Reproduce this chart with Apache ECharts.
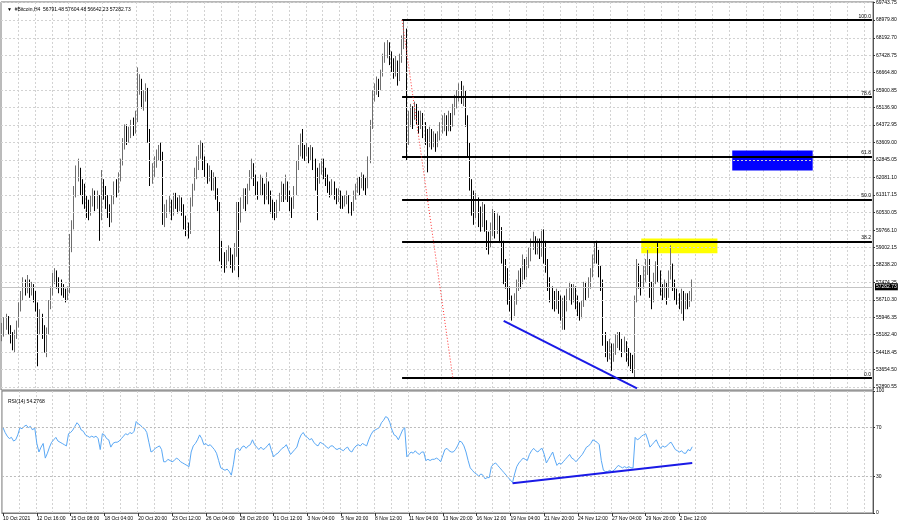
<!DOCTYPE html>
<html><head><meta charset="utf-8">
<script src="https://cdn.jsdelivr.net/npm/echarts@6/dist/echarts.min.js"></script>
<style>html,body{margin:0;padding:0;background:#fff}#c{width:900px;height:523px}</style>
</head><body><div id="c"></div>
<script>
const firstOpen = 55000;
const closes = [55300,55600,55900,55400,55100,54900,55200,55600,56300,56800,
57400,57200,57500,57100,57300,57000,56500,55500,55900,55400,
54700,55300,56500,57100,57600,57900,57500,57400,57200,57000,
56900,57100,59200,59900,61400,62300,62400,61700,61600,61000,
60800,60600,61000,61300,60900,61200,60300,61700,61500,61100,
60600,60300,61000,61700,61500,62000,62700,63500,64100,63900,
64000,64300,64200,64600,66100,66200,65400,65600,65900,64000,
62000,62300,62700,63000,63300,63100,60300,60500,60800,60900,
60500,61200,61000,60800,61000,60800,60200,59900,59700,60900,
61600,62200,62600,63100,63500,62800,62500,62100,62300,61800,
62000,61400,60900,59000,58500,58300,58600,58900,58400,58200,
58800,60700,60300,60800,61300,61000,61600,62200,62500,62000,
61700,61500,61900,61600,61200,61800,61300,60900,60700,60500,
60800,61200,61600,61400,61800,61300,61000,60800,61400,62500,
63300,63500,63200,63100,63300,63000,63200,62800,62300,62000,
62400,62700,62300,62000,61700,61500,61800,61400,61200,61300,
61000,60900,61100,61200,60800,60700,61300,61600,61900,61700,
62000,61800,61700,62800,64300,65600,65900,66100,66000,66600,
67300,67700,67800,67400,67100,66800,66900,66500,67300,67900,
68400,63800,64600,65000,64700,65100,64800,64400,64700,64300,
63900,63700,64000,63600,63800,63500,63900,64200,64400,64600,
64300,64700,64500,65000,65400,65600,65900,65600,65800,64700,
63400,61800,61200,60800,61000,60500,60200,60700,60000,59400,
59200,59800,60300,59900,60200,59600,59100,58300,57800,57000,
56600,56200,56700,57300,57700,57500,58300,57900,58400,58600,
59100,59300,59000,59200,58800,59400,59100,58300,57500,57000,
56700,56600,56900,56500,56200,56600,56400,56900,57200,56800,
57100,56700,56400,56100,56500,57200,57000,57400,57800,58500,
58900,58600,58000,57500,55000,54600,54300,54700,54200,54500,
54900,55100,54800,54600,54800,54400,54200,54000,53900,56700,
58200,57600,57300,57800,58000,58400,57400,56800,57600,58100,
57900,57200,57000,57300,56900,57700,58200,57500,57000,56800,
56600,57000,56500,56800,56600,56790,57283];
const highs = [55700,55950,56100,56000,55600,55300,55400,55800,56600,57100,
57700,57600,57800,57600,57500,57400,57100,56600,56300,56100,
55600,55500,56700,57300,57900,58100,58000,57700,57600,57400,
57200,57300,59600,60200,61700,62600,62900,62500,62000,61800,
61300,61100,61300,61600,61500,61500,61300,62400,62000,61700,
61300,60900,61300,61900,62000,62300,62900,63800,64400,64400,
64300,64600,64700,65000,66900,66600,66400,65900,66200,66000,
64200,62700,63000,63300,63500,63600,63200,60900,61100,61300,
61100,61400,61400,61200,61300,61200,60900,60400,60100,61200,
61800,62500,63000,63500,63700,63600,63000,62700,62600,62400,
62300,62100,61600,61000,59300,58800,58900,59100,59000,58700,
59200,61000,61000,61200,61600,61600,61800,62400,62900,62700,
62200,61900,62200,62100,61800,62300,61900,61500,61100,61000,
61100,61400,61900,61800,62200,61900,61500,61200,61700,62800,
63500,64000,64200,63500,63600,63400,63500,63400,62900,62500,
62700,62900,62900,62500,62200,61900,62000,61900,61600,61600,
61500,61300,61300,61500,61300,61000,61500,61800,62100,62100,
62300,62200,62100,63000,64600,65900,66200,66500,66400,66800,
67500,68000,68100,68000,67600,67300,67400,67200,67500,68300,
69000,68600,65000,65300,65200,65400,65300,65000,65000,64900,
64500,64200,64300,64200,64100,64000,64100,64500,64800,64900,
64800,65000,64900,65300,65700,65900,66200,66300,66100,65900,
64800,63600,62000,61500,61400,61200,60800,61000,60900,60200,
59700,60100,60700,60600,60500,60400,59900,59300,58500,58100,
57300,56900,57000,57600,58000,58100,58700,58500,58600,59000,
59400,59700,59500,59400,59400,59800,59800,59300,58500,57700,
57300,57100,57200,57100,56900,56800,56900,57200,57500,57400,
57400,57300,56900,56600,56700,57500,57500,57700,58100,58700,
59200,59300,58900,58200,57600,55300,54900,55000,54800,54800,
55200,55300,55300,55000,55100,54900,54600,54400,54300,56900,
58500,58300,57800,58200,58500,58900,58500,57500,57900,58400,
59200,58000,57400,57600,57500,58000,59100,58300,57600,57200,
57000,57200,57100,57000,57000,57100,57605];
const lows = [54900,55100,55400,55200,54800,54500,54400,55000,55500,56200,
56700,56900,57000,56800,56900,56600,56200,53800,55200,55000,
54400,54200,55200,56300,56900,57400,57200,57000,56900,56800,
56600,56700,57000,58800,59800,61200,61900,61300,60900,60700,
60300,60200,60400,60800,60600,60700,59300,60200,61100,60700,
60300,59900,60100,60900,61200,61400,61900,62600,63300,63500,
63600,63800,63900,64000,64500,65700,65100,65000,65400,63600,
61700,61800,62100,62500,62800,62800,60000,59900,60300,60500,
60200,60400,60700,60500,60600,60400,59800,59500,59400,59600,
60800,61500,62000,62400,62900,62400,62100,61800,61900,61500,
61500,61100,60600,58400,58100,57900,58100,58400,58100,57900,
58000,58600,57700,60100,60700,60600,60900,61500,62000,61700,
61300,61100,61300,61300,60900,61100,60900,60500,60300,60200,
60300,60600,61000,61000,61100,61000,60600,60300,60700,61300,
62400,63000,62900,62800,63000,62700,62800,62400,61500,60200,
61800,62200,62000,61700,61400,61200,61300,61100,60900,61000,
60700,60700,60800,60900,60500,60400,60600,61100,61400,61300,
61600,61500,61300,61600,62700,64200,65400,65700,65600,65900,
66500,67100,67300,67000,66700,66400,66500,66100,66300,67100,
67700,62800,63500,64300,64200,64600,64400,64000,64200,63800,
63500,62300,63400,63300,63400,63200,63400,63700,64000,64100,
63900,64100,64100,64300,64800,65100,65400,65300,65200,64300,
63000,61500,60400,60000,60300,59900,59700,59900,59700,58900,
58700,59000,59500,59400,59600,59200,58300,57400,57200,56500,
56200,55800,56000,56500,57100,57200,57400,57600,57700,58100,
58400,58900,58700,58700,58500,58600,58300,57900,57100,56600,
56300,56200,56300,56100,55800,55400,55400,56200,56700,56500,
56600,56300,56000,55800,55900,56400,56700,56800,57200,57700,
58300,58300,57700,57100,54700,54200,54000,54100,53600,54000,
54300,54600,54500,54200,54400,54000,53800,53600,53500,53300,
56600,57200,56900,57200,57500,57800,56800,56300,56600,57400,
57500,56900,56700,56800,56500,56800,57600,57100,56700,56500,
56300,56100,55800,56300,56300,56400,56642];
const rsi = [70,66,63,61,62,59,60,64,70,69,
71,72,70,71,68,70,57,50,54,57,
45,49,54,58,60,62,59,58,57,56,
55,65,66,68,71,74,72,68,67,64,
63,62,63,62,63,61,52,65,64,61,
60,54,57,58,58,59,61,63,65,64,
66,65,67,75,73,72,70,69,66,58,
50,51,53,54,55,52,42,42,44,43,
42,43,45,44,42,41,40,39,38,50,
55,57,60,64,61,56,57,55,56,54,
52,49,43,37,36,35,36,34,31,40,
52,53,51,54,55,53,55,56,60,56,
54,52,54,52,53,55,57,51,46,48,
49,51,53,54,56,52,48,50,52,54,
60,64,66,63,62,60,61,58,56,55,
58,57,56,54,53,55,55,53,52,53,
52,51,53,54,51,50,53,55,56,55,
57,56,55,60,64,67,68,69,70,74,
76,79,78,74,68,64,63,60,64,68,
70,46,48,50,49,51,49,48,50,50,
43,44,43,44,44,45,44,42,47,52,
53,51,50,50,52,55,59,58,55,50,
43,37,35,33,32,30,32,31,28,29,
29,38,40,41,39,37,35,33,31,29,
27,25,32,38,41,43,45,44,43,48,
51,53,51,50,52,53,48,41,44,47,
50,44,39,41,40,42,44,46,48,45,
44,42,44,46,48,51,54,55,57,60,
59,58,56,43,35,34,34,35,34,35,
37,39,38,37,38,37,38,37,37,62,
60,61,63,64,65,60,54,56,58,60,
56,53,55,54,55,57,58,55,52,51,
50,51,49,49,52,51,54.28];
const tickLabels = ['10 Oct 2021','12 Oct 16:00','15 Oct 08:00','18 Oct 04:00','20 Oct 20:00','23 Oct 12:00','26 Oct 04:00','28 Oct 20:00','31 Oct 12:00','3 Nov 04:00','5 Nov 20:00','8 Nov 12:00','11 Nov 04:00','13 Nov 20:00','16 Nov 12:00','19 Nov 04:00','21 Nov 20:00','24 Nov 12:00','27 Nov 04:00','29 Nov 20:00','2 Dec 12:00'];
const priceTicks = [69743.75,68979.80,68192.70,67428.75,66664.80,65900.85,65136.90,64372.95,63609.00,62845.05,62081.10,61317.15,60530.05,59766.10,59002.15,58238.20,57474.25,56710.30,55946.35,55182.40,54418.45,53654.50,52890.55];
const rsiTicks = [0,30,70,100];
const fibLabels = ['0.0','38.2','50.0','61.8','78.6','100.0'];
const fibPrices = [53284,59274,61110,62990,65613,68980];
const headerText = '\u25BC  #Bitcoin,H4  56791.48 57604.48 56642.23 57282.73';
const rsiText = 'RSI(14) 54.2768';
const lastPrice = 57282.73;
const slotCount = 412;
const barsPerLabel = 16;
const barsPerGrid = 8;

const cats = [];
for (let i = 0; i < slotCount; i++) cats.push(String(i));
const candles = closes.map((c, i) => {
  const o = i === 0 ? firstOpen : closes[i - 1];
  return [o, c, Math.min(lows[i], o, c), Math.max(highs[i], o, c)];
});
const FONT = 'Liberation Sans';
const gridColor = '#d2d2d2';
const lastIdx = slotCount - 1;

const fibLines = fibPrices.map((p, k) => [
  {name: fibLabels[k], coord: [189, p], lineStyle: {color: '#000', width: 2, type: 'solid'},
   label: {show: true, position: 'insideEndTop', formatter: '{b}', fontSize: 5, fontFamily: FONT, color: '#000', distance: 1}},
  {coord: [lastIdx, p]}
]);

const option = {
  animation: false,
  backgroundColor: '#fff',
  textStyle: {fontFamily: FONT},
  title: [
    {text: headerText, left: 2, top: 2, textStyle: {fontSize: 5, fontWeight: 'normal', color: '#000', fontFamily: FONT}},
    {text: rsiText, left: 3, top: 394, textStyle: {fontSize: 5, fontWeight: 'normal', color: '#000', fontFamily: FONT}}
  ],
  grid: [
    {left: 1, right: 27, top: 1, height: 389, show: true, borderColor: '#777', borderWidth: 1, backgroundColor: 'transparent'},
    {left: 1, right: 27, top: 391, height: 122, show: true, borderColor: '#777', borderWidth: 1, backgroundColor: 'transparent'}
  ],
  xAxis: [
    {type: 'category', gridIndex: 0, data: cats, boundaryGap: true,
     axisLine: {show: false}, axisTick: {show: false}, axisLabel: {show: false},
     splitLine: {show: true, interval: (i) => i % barsPerGrid === 0 && i > 0, lineStyle: {color: gridColor, type: [2, 2]}}},
    {type: 'category', gridIndex: 1, data: cats, boundaryGap: true,
     axisLine: {show: true, lineStyle: {color: '#777'}},
     axisTick: {show: true, alignWithLabel: true, length: 3, interval: (i) => i % barsPerLabel === 0 && i / barsPerLabel < tickLabels.length, lineStyle: {color: '#333'}},
     axisLabel: {show: true, interval: barsPerLabel - 1, align: 'left', margin: 3, fontSize: 5, color: '#000', fontFamily: FONT,
       formatter: (v, idx) => tickLabels[idx / barsPerLabel] || ''},
     splitLine: {show: true, interval: (i) => i % barsPerGrid === 0 && i > 0, lineStyle: {color: gridColor, type: [2, 2]}}}
  ],
  yAxis: [
    {type: 'value', gridIndex: 0, position: 'right', min: 52760, max: 69767, scale: true,
     axisLine: {show: true, lineStyle: {color: '#555'}},
     axisTick: {show: true, length: 2, inside: false, customValues: priceTicks, lineStyle: {color: '#333'}},
     axisLabel: {show: true, customValues: priceTicks, margin: 3, fontSize: 5, color: '#000', fontFamily: FONT, formatter: (v) => Number(v).toFixed(2)},
     splitLine: {show: false}},
    {type: 'value', gridIndex: 1, position: 'right', min: 0, max: 100,
     axisLine: {show: true, lineStyle: {color: '#555'}},
     axisTick: {show: true, length: 2, customValues: rsiTicks, lineStyle: {color: '#333'}},
     axisLabel: {show: true, customValues: rsiTicks, margin: 3, fontSize: 5, color: '#000', fontFamily: FONT},
     splitLine: {show: false}}
  ],
  series: [
    {type: 'line', xAxisIndex: 0, yAxisIndex: 0, data: [], z: 1, silent: true,
     markLine: {silent: true, symbol: ['none', 'none'], label: {show: false},
       lineStyle: {color: gridColor, type: [2, 2], width: 1},
       data: priceTicks.map(v => ({yAxis: v}))}},
    {type: 'line', xAxisIndex: 1, yAxisIndex: 1, data: [], z: 1, silent: true,
     markLine: {silent: true, symbol: ['none', 'none'], label: {show: false},
       lineStyle: {color: '#bbb', type: [2, 2], width: 1},
       data: [{yAxis: 70}, {yAxis: 30}]}},
    {type: 'candlestick', xAxisIndex: 0, yAxisIndex: 0, data: candles, barWidth: 1, z: 3,
     itemStyle: {color: '#808080', color0: '#000', borderColor: '#6e6e6e', borderColor0: '#000', borderWidth: 1},
     markLine: {silent: true, symbol: ['none', 'none'], animation: false,
       data: [
         {yAxis: lastPrice, lineStyle: {color: '#c4c4c4', width: 1, type: 'solid'},
          label: {show: true, position: 'end', formatter: lastPrice.toFixed(2), backgroundColor: '#000', color: '#fff', fontSize: 5, fontFamily: FONT, padding: [1, 1], distance: 2}},
         ...fibLines,
         [{coord: [189, 68980], lineStyle: {color: '#ff3030', width: 1, type: [1, 2]}, label: {show: false}}, {coord: [213, 53284]}],
         [{coord: [237, 55790], lineStyle: {color: '#1a1ae6', width: 2, type: 'solid'}, label: {show: false}}, {coord: [300, 52834]}]
       ]},
     markArea: {silent: true,
       data: [
         [{coord: [302, 59405], itemStyle: {color: '#ffff00', opacity: 1}}, {coord: [338, 58749]}],
         [{coord: [345, 63253], itemStyle: {color: '#0000ff', opacity: 1}}, {coord: [383, 62378]}]
       ]}},
    {type: 'line', xAxisIndex: 1, yAxisIndex: 1, data: rsi, symbol: 'none', z: 3,
     lineStyle: {color: '#5aa8f5', width: 1},
     markLine: {silent: true, symbol: ['none', 'none'], label: {show: false},
       data: [[{coord: [241, 24.3], lineStyle: {color: '#1a1ae6', width: 2, type: 'solid'}}, {coord: [326, 41]}]]}}
  ]
};
const chart = echarts.init(document.getElementById('c'), null, {renderer: 'canvas'});
chart.setOption(option);
</script></body></html>
